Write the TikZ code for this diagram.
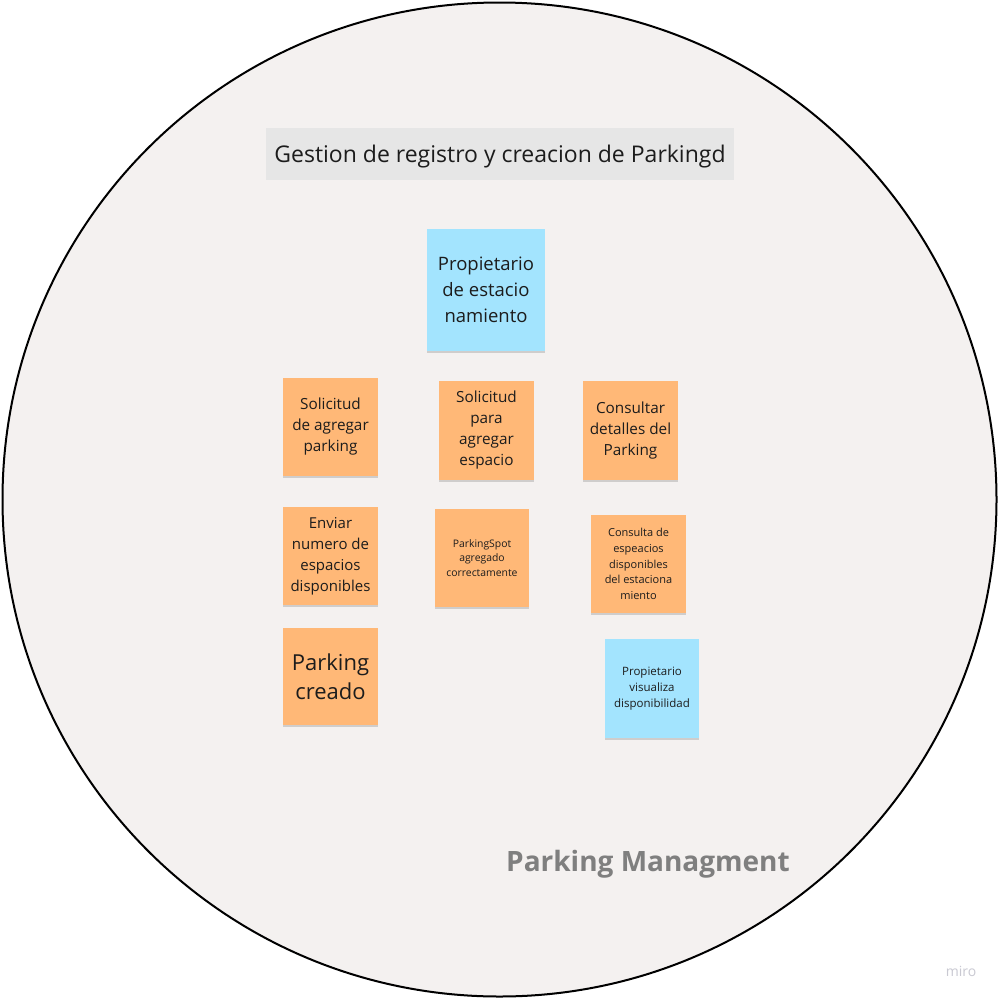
\documentclass[tikz,border=0pt]{standalone}
\usepackage{fontspec}
\setmainfont{Open Sans}
\usetikzlibrary{shadows}
\definecolor{bgc}{HTML}{F4F1F0}
\definecolor{titlec}{HTML}{E6E6E6}
\definecolor{orangec}{HTML}{FFB877}
\definecolor{bluec}{HTML}{A3E4FE}
\definecolor{txtc}{HTML}{1C1C1C}
\definecolor{grayt}{HTML}{7F7F7F}
\definecolor{miroc}{HTML}{C9C9D2}
\tikzset{
  sticky/.style={rectangle, inner sep=0pt, text=txtc, align=center,
    drop shadow={shadow xshift=0pt, shadow yshift=-2pt, opacity=0.15, fill=black}},
  orangenote/.style={sticky, fill=orangec},
  bluenote/.style={sticky, fill=bluec},
}
\begin{document}
\begin{tikzpicture}[x=1pt,y=-1pt]
\useasboundingbox (0,0) rectangle (999,999);
\fill[white] (0,0) rectangle (999,999);
\draw[line width=2pt, fill=bgc] (499.5,499.5) circle[radius=497];
\node[fill=titlec, minimum width=468pt, minimum height=52pt, inner sep=0pt] (title) at (500,154) {};
\node[text=txtc, inner sep=0pt, font=\fontsize{23}{27}\selectfont] (titletext) at (500,157)
  {Gestion de registro y creacion de Parkingd};
\node[bluenote, minimum width=118pt, minimum height=122pt, font=\fontsize{18.5}{26}\selectfont] (prop) at (486,290)
  {Propietario\\de estacio\\namiento};
\node[orangenote, minimum width=95pt, minimum height=98pt, font=\fontsize{15.3}{21}\selectfont] (sol1) at (330.5,426.5)
  {Solicitud\\de agregar\\parking};
\node[orangenote, minimum width=95pt, minimum height=99pt, font=\fontsize{15.3}{21}\selectfont] (sol2) at (486.5,430.5)
  {Solicitud\\para\\agregar\\espacio};
\node[orangenote, minimum width=95pt, minimum height=99pt, font=\fontsize{15.3}{21}\selectfont] (cons1) at (630.5,430.5)
  {Consultar\\detalles del\\Parking};
\node[orangenote, minimum width=95pt, minimum height=98pt, font=\fontsize{15}{21}\selectfont] (env) at (330.5,556)
  {Enviar\\numero de\\espacios\\disponibles};
\node[orangenote, minimum width=94pt, minimum height=98pt, font=\fontsize{10.4}{14.5}\selectfont] (spot) at (482,558)
  {ParkingSpot\\agregado\\correctamente};
\node[orangenote, minimum width=95pt, minimum height=98pt, font=\fontsize{11}{15.7}\selectfont] (cons2) at (638.5,564)
  {Consulta de\\espeacios\\disponibles\\del estaciona\\miento};
\node[orangenote, minimum width=95pt, minimum height=97pt, font=\fontsize{22}{29}\selectfont] (creado) at (330.5,676.5)
  {Parking\\creado};
\node[bluenote, minimum width=94pt, minimum height=99pt, font=\fontsize{11.5}{16}\selectfont] (vis) at (652,688.5)
  {Propietario\\visualiza\\disponibilidad};
\node[text=grayt, inner sep=0pt, font=\fontsize{28}{32}\selectfont\bfseries] (pm) at (648,864)
  {Parking Managment};
\node[text=miroc, inner sep=0pt, font=\fontsize{14}{16}\selectfont] (miro) at (961,971)
  {miro};
\end{tikzpicture}
\end{document}
